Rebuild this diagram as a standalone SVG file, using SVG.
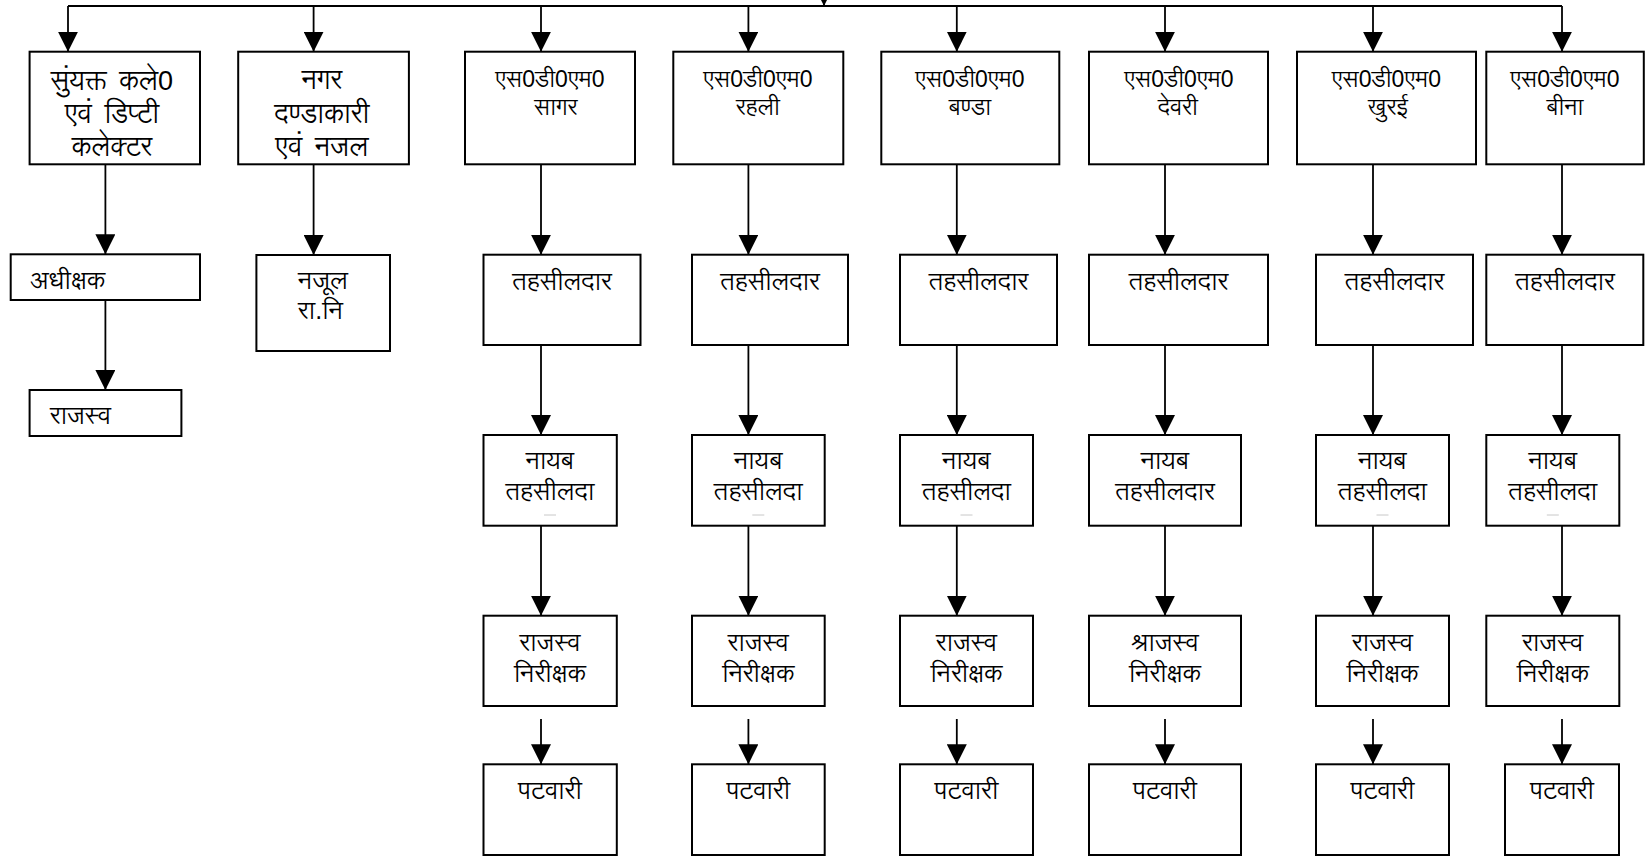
<svg xmlns="http://www.w3.org/2000/svg" width="1648" height="856" viewBox="0 0 1648 856">
<defs>
<marker id="ah" markerUnits="userSpaceOnUse" markerWidth="20" markerHeight="20" refX="20" refY="10" orient="auto" viewBox="0 0 20 20"><path d="M0,0 L20,10 L0,20z" fill="#000"/></marker>
</defs>
<style>
.box{fill:#fff;stroke:#000;stroke-width:2}
.c{stroke:#000;stroke-width:1.8;fill:none;marker-end:url(#ah)}
.bus{stroke:#000;stroke-width:1.8;fill:none}
text{font-family:"Liberation Sans","Lohit Devanagari","Noto Sans Devanagari","Noto Sans",sans-serif;fill:#000;font-weight:400}
.m{text-anchor:middle}
.big{font-size:27px;word-spacing:5px}
.s{font-size:23px}
.n{font-size:25px}
.dash{stroke:#c8c8c8;stroke-width:1}
</style>
<rect width="1648" height="856" fill="#fff"/>
<g id="connectors">
<path class="bus" d="M68,6 H1562"/>
<path class="c" d="M824,-20 V6"/>
<path class="c" d="M68,6 V51.7"/>
<path class="c" d="M313.6,6 V51.7"/>
<path class="c" d="M541,6 V51.7"/>
<path class="c" d="M748.4,6 V51.7"/>
<path class="c" d="M956.8,6 V51.7"/>
<path class="c" d="M1165,6 V51.7"/>
<path class="c" d="M1373,6 V51.7"/>
<path class="c" d="M1562,6 V51.7"/>
<path class="c" d="M105.4,164.3 V254.3"/>
<path class="c" d="M105.4,300 V390"/>
<path class="c" d="M313.6,164.3 V255"/>
<path class="c" d="M541,164.3 V254.7"/><path class="c" d="M541,345 V435"/><path class="c" d="M541,525.7 V615.7"/><path class="c" d="M541,719 V764.3"/>
<path class="c" d="M748.4,164.3 V254.7"/><path class="c" d="M748.4,345 V435"/><path class="c" d="M748.4,525.7 V615.7"/><path class="c" d="M748.4,719 V764.3"/>
<path class="c" d="M956.8,164.3 V254.7"/><path class="c" d="M956.8,345 V435"/><path class="c" d="M956.8,525.7 V615.7"/><path class="c" d="M956.8,719 V764.3"/>
<path class="c" d="M1165,164.3 V254.7"/><path class="c" d="M1165,345 V435"/><path class="c" d="M1165,525.7 V615.7"/><path class="c" d="M1165,719 V764.3"/>
<path class="c" d="M1373,164.3 V254.7"/><path class="c" d="M1373,345 V435"/><path class="c" d="M1373,525.7 V615.7"/><path class="c" d="M1373,719 V764.3"/>
<path class="c" d="M1562,164.3 V254.7"/><path class="c" d="M1562,345 V435"/><path class="c" d="M1562,525.7 V615.7"/><path class="c" d="M1562,719 V764.3"/>
</g>
<g id="n-joint-collector"><rect class="box" x="29.6" y="51.7" width="170.4" height="112.6"/>
<text class="m big" x="112" y="90">सुंयक्त कले0</text><text class="m big" x="112" y="122.5">एवं डिप्टी</text><text class="m big" x="112" y="155.5">कलेक्टर</text></g>
<g id="n-nagar"><rect class="box" x="238.2" y="51.7" width="170.7" height="112.6"/>
<text class="m big" x="322" y="89">नगर</text><text class="m big" x="322" y="122.5">दण्डाकारी</text><text class="m big" x="322" y="155.5">एवं नजल</text></g>
<g id="n-sdm-sagar"><rect class="box" x="465" y="51.7" width="170" height="112.6"/>
<text class="m s" x="550" y="87">एस0डी0एम0</text><text class="m s" x="556" y="115">सागर</text></g>
<g id="n-sdm-rahli"><rect class="box" x="673.3" y="51.7" width="170" height="112.6"/>
<text class="m s" x="758" y="87">एस0डी0एम0</text><text class="m s" x="758" y="115">रहली</text></g>
<g id="n-sdm-banda"><rect class="box" x="881.3" y="51.7" width="178" height="112.6"/>
<text class="m s" x="970" y="87">एस0डी0एम0</text><text class="m s" x="970" y="115">बण्डा</text></g>
<g id="n-sdm-devri"><rect class="box" x="1089" y="51.7" width="179" height="112.6"/>
<text class="m s" x="1179" y="87">एस0डी0एम0</text><text class="m s" x="1178" y="115">देवरी</text></g>
<g id="n-sdm-khurai"><rect class="box" x="1297" y="51.7" width="179" height="112.6"/>
<text class="m s" x="1386.5" y="87">एस0डी0एम0</text><text class="m s" x="1388" y="115">खुरई</text></g>
<g id="n-sdm-bina"><rect class="box" x="1486.3" y="51.7" width="157.5" height="112.6"/>
<text class="m s" x="1565" y="87">एस0डी0एम0</text><text class="m s" x="1565" y="115">बीना</text></g>
<g id="n-adhikshak"><rect class="box" x="10.7" y="254.3" width="189.3" height="45.7"/><text class="n" x="30" y="289">अधीक्षक</text></g>
<g id="n-rajasva-left"><rect class="box" x="29.6" y="390" width="151.8" height="46"/><text class="n" x="50" y="424">राजस्व</text></g>
<g id="n-nazul"><rect class="box" x="256.4" y="255" width="133.6" height="96"/><text class="m n" x="323" y="289">नजूल</text><text class="m n" x="320.5" y="319">रा.नि</text></g>
<g id="n-teh-sagar"><rect class="box" x="483.5" y="254.7" width="157" height="90.3"/><text class="m n" x="562" y="290">तहसीलदार</text></g>
<g id="n-teh-rahli"><rect class="box" x="692" y="254.7" width="156" height="90.3"/><text class="m n" x="770" y="290">तहसीलदार</text></g>
<g id="n-teh-banda"><rect class="box" x="900" y="254.7" width="157" height="90.3"/><text class="m n" x="978.5" y="290">तहसीलदार</text></g>
<g id="n-teh-devri"><rect class="box" x="1089" y="254.7" width="179" height="90.3"/><text class="m n" x="1178.5" y="290">तहसीलदार</text></g>
<g id="n-teh-khurai"><rect class="box" x="1316" y="254.7" width="157" height="90.3"/><text class="m n" x="1394.5" y="290">तहसीलदार</text></g>
<g id="n-teh-bina"><rect class="box" x="1486.3" y="254.7" width="157" height="90.3"/><text class="m n" x="1565" y="290">तहसीलदार</text></g>
<g id="n-naib-sagar"><rect class="box" x="483.5" y="435" width="133.3" height="90.7"/><text class="m n" x="550" y="469">नायब</text><text class="m n" x="550" y="500">तहसीलदा</text><line class="dash" x1="544" y1="515" x2="556" y2="515"/></g>
<g id="n-naib-rahli"><rect class="box" x="692" y="435" width="132.7" height="90.7"/><text class="m n" x="758.3" y="469">नायब</text><text class="m n" x="758.3" y="500">तहसीलदा</text><line class="dash" x1="752.3" y1="515" x2="764.3" y2="515"/></g>
<g id="n-naib-banda"><rect class="box" x="900" y="435" width="133" height="90.7"/><text class="m n" x="966.5" y="469">नायब</text><text class="m n" x="966.5" y="500">तहसीलदा</text><line class="dash" x1="960.5" y1="515" x2="972.5" y2="515"/></g>
<g id="n-naib-devri"><rect class="box" x="1089" y="435" width="152" height="90.7"/><text class="m n" x="1165" y="469">नायब</text><text class="m n" x="1165" y="500">तहसीलदार</text></g>
<g id="n-naib-khurai"><rect class="box" x="1316" y="435" width="133" height="90.7"/><text class="m n" x="1382.5" y="469">नायब</text><text class="m n" x="1382.5" y="500">तहसीलदा</text><line class="dash" x1="1376.5" y1="515" x2="1388.5" y2="515"/></g>
<g id="n-naib-bina"><rect class="box" x="1486.3" y="435" width="133" height="90.7"/><text class="m n" x="1552.8" y="469">नायब</text><text class="m n" x="1552.8" y="500">तहसीलदा</text><line class="dash" x1="1546.8" y1="515" x2="1558.8" y2="515"/></g>
<g id="n-ri-sagar"><rect class="box" x="483.5" y="615.7" width="133.3" height="90.3"/><text class="m n" x="550" y="651">राजस्व</text><text class="m n" x="550" y="682">निरीक्षक</text></g>
<g id="n-ri-rahli"><rect class="box" x="692" y="615.7" width="132.7" height="90.3"/><text class="m n" x="758.3" y="651">राजस्व</text><text class="m n" x="758.3" y="682">निरीक्षक</text></g>
<g id="n-ri-banda"><rect class="box" x="900" y="615.7" width="133" height="90.3"/><text class="m n" x="966.5" y="651">राजस्व</text><text class="m n" x="966.5" y="682">निरीक्षक</text></g>
<g id="n-ri-devri"><rect class="box" x="1089" y="615.7" width="152" height="90.3"/><text class="m n" x="1165" y="651">श्राजस्व</text><text class="m n" x="1165" y="682">निरीक्षक</text></g>
<g id="n-ri-khurai"><rect class="box" x="1316" y="615.7" width="133" height="90.3"/><text class="m n" x="1382.5" y="651">राजस्व</text><text class="m n" x="1382.5" y="682">निरीक्षक</text></g>
<g id="n-ri-bina"><rect class="box" x="1486.3" y="615.7" width="133" height="90.3"/><text class="m n" x="1552.8" y="651">राजस्व</text><text class="m n" x="1552.8" y="682">निरीक्षक</text></g>
<g id="n-pat-sagar"><rect class="box" x="483.5" y="764.3" width="133.3" height="90.7"/><text class="m n" x="550" y="799">पटवारी</text></g>
<g id="n-pat-rahli"><rect class="box" x="692" y="764.3" width="132.7" height="90.7"/><text class="m n" x="758.3" y="799">पटवारी</text></g>
<g id="n-pat-banda"><rect class="box" x="900" y="764.3" width="133" height="90.7"/><text class="m n" x="966.5" y="799">पटवारी</text></g>
<g id="n-pat-devri"><rect class="box" x="1089" y="764.3" width="152" height="90.7"/><text class="m n" x="1165" y="799">पटवारी</text></g>
<g id="n-pat-khurai"><rect class="box" x="1316" y="764.3" width="133" height="90.7"/><text class="m n" x="1382.5" y="799">पटवारी</text></g>
<g id="n-pat-bina"><rect class="box" x="1505" y="764.3" width="114" height="90.7"/><text class="m n" x="1562" y="799">पटवारी</text></g>
</svg>
